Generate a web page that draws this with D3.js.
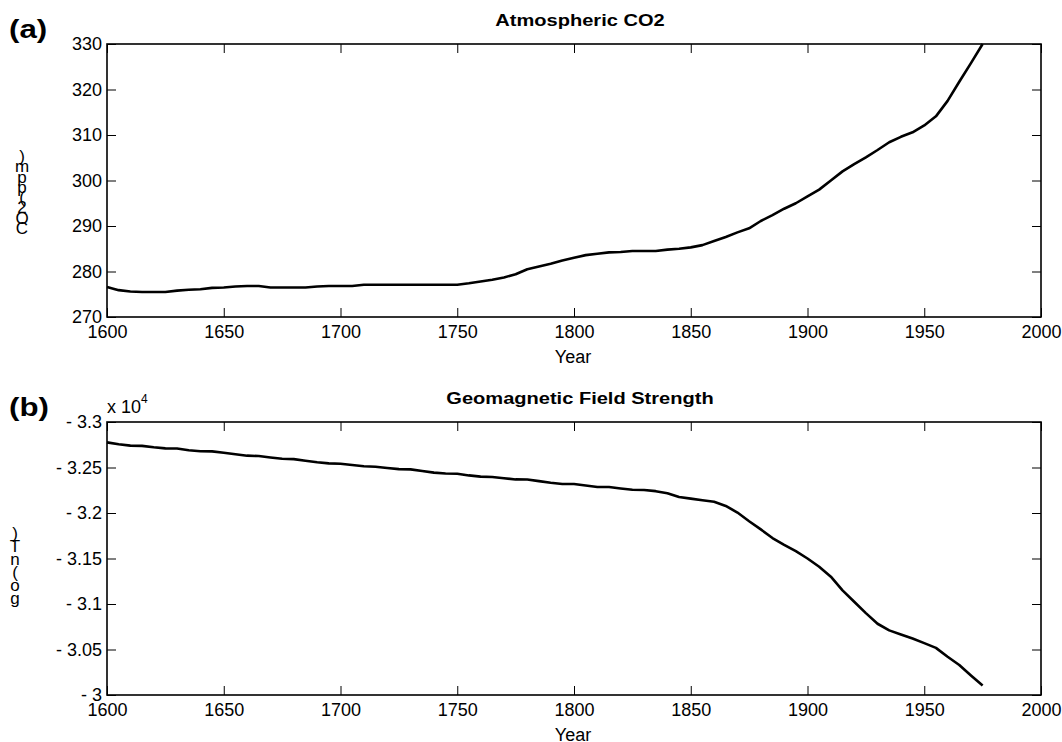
<!DOCTYPE html>
<html>
<head>
<meta charset="utf-8">
<script src="https://cdn.jsdelivr.net/npm/d3@7"></script>
<style>
  html, body { margin: 0; padding: 0; background: #fff; }
  svg { display: block; }
  text { font-family: "Liberation Sans", Arial, sans-serif; fill: #000; }
</style>
</head>
<body>
<svg id="chart" width="1062" height="742"></svg>
<script>
// ---------- data ----------
const years = d3.range(1600, 1976, 5);
const co2 = [
  276.6, 275.9, 275.6, 275.5, 275.5, 275.5, 275.8, 276.0, 276.1, 276.4,
  276.5, 276.7, 276.8, 276.8, 276.5, 276.5, 276.5, 276.5, 276.7, 276.8,
  276.8, 276.8, 277.1, 277.1, 277.1, 277.1, 277.1, 277.1, 277.1, 277.1,
  277.1, 277.4, 277.8, 278.2, 278.7, 279.4, 280.5, 281.1, 281.7, 282.4,
  283.0, 283.6, 283.9, 284.2, 284.3, 284.5, 284.5, 284.5, 284.8, 285.0,
  285.3, 285.8, 286.7, 287.6, 288.6, 289.5, 291.1, 292.4, 293.8, 295.0,
  296.5, 298.0, 300.0, 302.0, 303.6, 305.1, 306.7, 308.4, 309.6, 310.6,
  312.1, 314.1, 317.5, 321.7, 325.8, 330.0
];
const geomag = [
  32776, 32755, 32740, 32738, 32722, 32710, 32708, 32690, 32679, 32677,
  32662, 32645, 32630, 32626, 32610, 32596, 32592, 32575, 32558, 32545,
  32542, 32528, 32514, 32509, 32495, 32482, 32479, 32462, 32444, 32434,
  32431, 32413, 32400, 32396, 32382, 32369, 32368, 32350, 32332, 32318,
  32318, 32302, 32286, 32286, 32270, 32256, 32253, 32240, 32218, 32176,
  32158, 32140, 32123, 32078, 32005, 31910, 31820, 31725, 31650, 31580,
  31500, 31410, 31300, 31150, 31025, 30900, 30783, 30710, 30665, 30620,
  30570, 30518, 30420, 30330, 30215, 30105
];
const xTicks = [1600, 1650, 1700, 1750, 1800, 1850, 1900, 1950, 2000];
const co2Ticks = [270, 280, 290, 300, 310, 320, 330];
const geoTicks = [30000, 30500, 31000, 31500, 32000, 32500, 33000];
const geoTickLabels = ["- 3", "- 3.05", "- 3.1", "- 3.15", "- 3.2", "- 3.25", "- 3.3"];
const titles = ["Atmospheric CO2", "Geomagnetic Field Strength"];
const panelLabels = ["(a)", "(b)"];
const yLabels = ["CO2(ppm)", "go(nT)"];
const xLabel = "Year";

// ---------- layout ----------
const svg = d3.select("#chart");
const L = 107, R = 1041;
const panels = [
  { top: 44, bottom: 317, domain: [270, 330], ticks: co2Ticks, labels: co2Ticks.map(String), values: co2 },
  { top: 422, bottom: 695, domain: [30000, 33000], ticks: geoTicks, labels: geoTickLabels, values: geomag }
];
const x = d3.scaleLinear().domain([1600, 2000]).range([L, R]);

panels.forEach((p, i) => {
  const y = d3.scaleLinear().domain(p.domain).range([p.bottom, p.top]);
  const g = svg.append("g");
  const fs = "18px";

  const gb = g.append("g").attr("transform", `translate(0,${p.bottom})`)
    .call(d3.axisBottom(x).tickValues(xTicks).tickSize(-9).tickPadding(8).tickFormat(d3.format("d")));
  const gt = g.append("g").attr("transform", `translate(0,${p.top})`)
    .call(d3.axisTop(x).tickValues(xTicks).tickSize(-9).tickFormat(""));
  const gl = g.append("g").attr("transform", `translate(${L},0)`)
    .call(d3.axisLeft(y).tickValues(p.ticks).tickSize(-9).tickPadding(5)
      .tickFormat((d, k) => p.labels[k]));
  const gr = g.append("g").attr("transform", `translate(${R},0)`)
    .call(d3.axisRight(y).tickValues(p.ticks).tickSize(-9).tickFormat(""));

  [gb, gt, gl, gr].forEach(a => {
    a.select(".domain").remove();
    a.selectAll(".tick line").attr("stroke", "#000").attr("stroke-width", 1);
    a.selectAll("text").attr("font-size", fs).attr("fill", "#000")
      .attr("font-family", '"Liberation Sans", Arial, sans-serif');
  });

  g.append("rect").attr("x", L).attr("y", p.top)
    .attr("width", R - L).attr("height", p.bottom - p.top)
    .attr("fill", "none").attr("stroke", "#000").attr("stroke-width", 1.6);

  const line = d3.line().x((d, k) => x(years[k])).y(d => y(d));
  g.append("path").datum(p.values).attr("d", line)
    .attr("fill", "none").attr("stroke", "#000").attr("stroke-width", 2.6)
    .attr("stroke-linejoin", "round");

  // title (slightly widened like the reference)
  g.append("text")
    .attr("transform", `translate(${(L + R) / 2 + 6},${p.top - 18}) scale(1.18,1)`)
    .attr("text-anchor", "middle").attr("font-size", "17px").attr("font-weight", "bold")
    .text(titles[i]);

  g.append("text").attr("x", (L + R) / 2 - 1).attr("y", p.bottom + 46)
    .attr("text-anchor", "middle").attr("font-size", "18px").text(xLabel);

  g.append("text")
    .attr("transform", `translate(9,${p.top - 6}) scale(1.25,1)`)
    .attr("font-size", "25px").attr("font-weight", "bold").text(panelLabels[i]);

  const chars = yLabels[i].split("");
  const base = i === 0 ? 234 : 604;
  const step = i === 0 ? 10.3 : 13;
  const cx = i === 0 ? 22 : 15;
  g.append("g").selectAll("text").data(chars).join("text")
    .attr("x", cx).attr("y", (d, k) => base - k * step)
    .attr("text-anchor", "middle").attr("font-size", "17px")
    .text(d => d);
});

const ex = svg.append("text").attr("x", 107).attr("y", 413).attr("font-size", "18px");
ex.append("tspan").text("x 10");
ex.append("tspan").attr("dy", -10).attr("font-size", "12px").text("4");
</script>
</body>
</html>
